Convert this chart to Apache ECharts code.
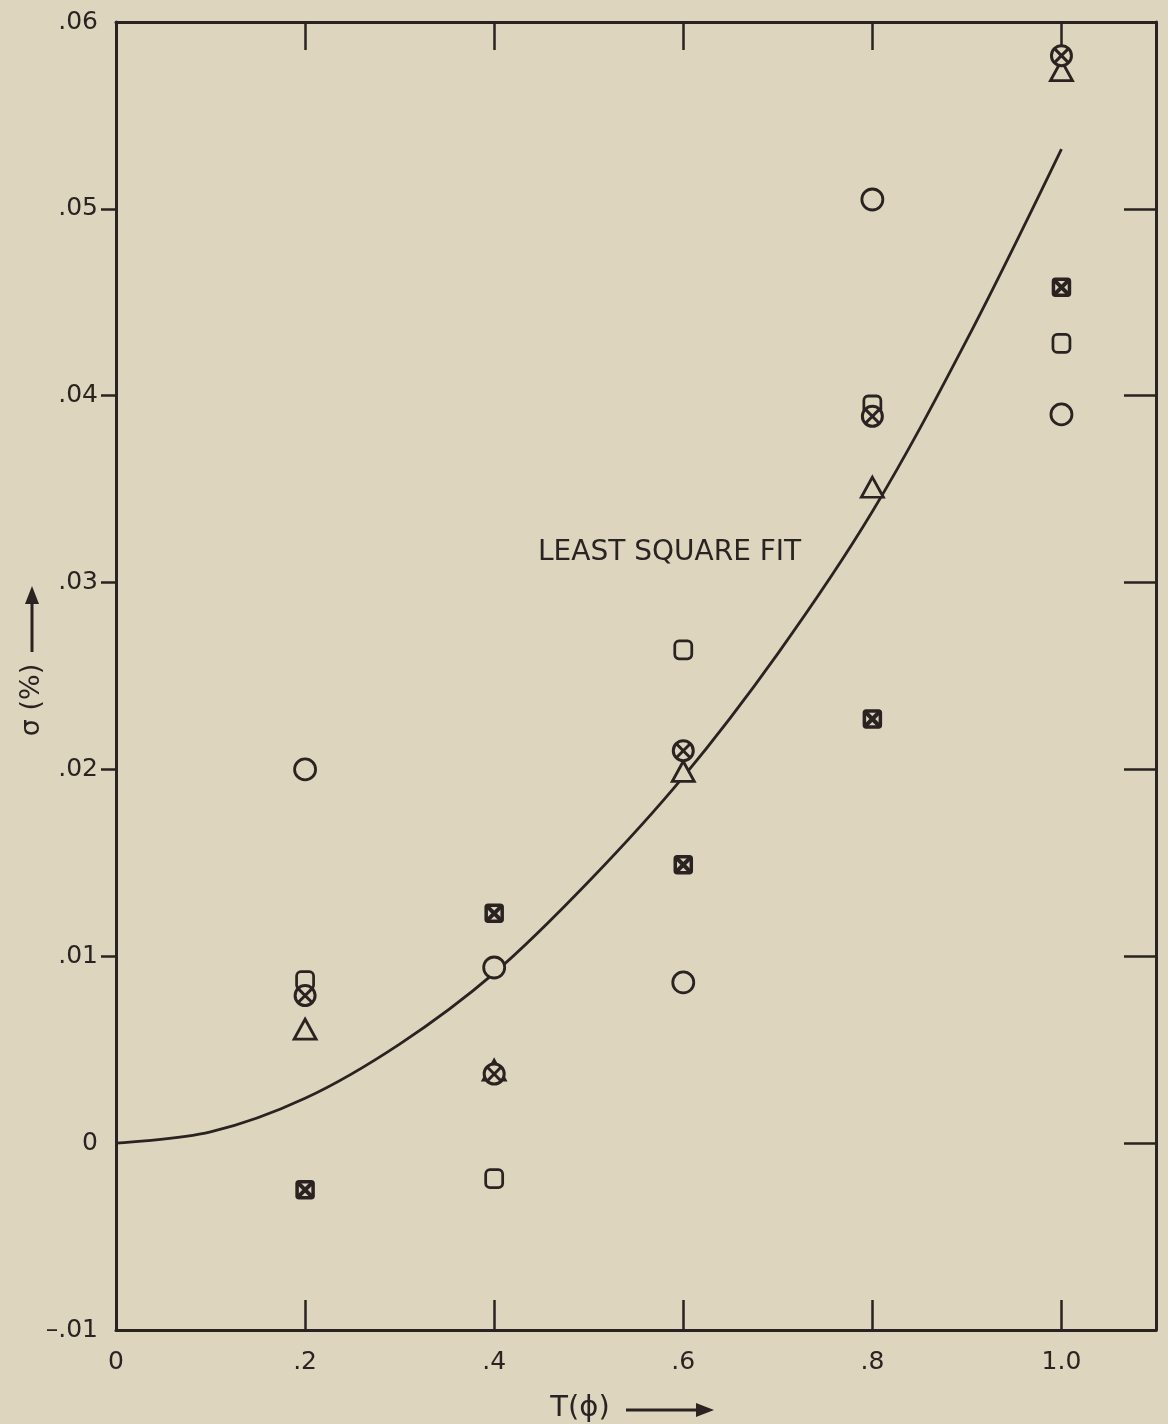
<!DOCTYPE html>
<html>
<head>
<meta charset="utf-8">
<script src="https://cdn.jsdelivr.net/npm/echarts@6/dist/echarts.min.js"></script>
<style>
  html, body { margin: 0; padding: 0; background: #ddd5be; }
  #chart { width: 1168px; height: 1424px; }
</style>
</head>
<body>
<div id="chart"></div>
<script>
// ---- data ----
const tValues   = [0.2, 0.4, 0.6, 0.8, 1.0];
const circleVals   = [0.0200, 0.0094, 0.0086, 0.0505, 0.0390];
const squareVals   = [0.0087, -0.0019, 0.0264, 0.0395, 0.0428];
const circleXVals  = [0.0079, 0.0037, 0.0210, 0.0389, 0.0582];
const triangleVals = [0.0061, 0.0039, 0.0199, 0.0351, 0.0574];
const boxedXVals   = [-0.0025, 0.0123, 0.0149, 0.0227, 0.0458];
const fitT     = [0, 0.1, 0.2, 0.3, 0.4, 0.5, 0.6, 0.7, 0.8, 0.9, 1.0];
const fitSigma = [0, 0.0006, 0.0024, 0.0053, 0.0091, 0.0140, 0.0196, 0.0262, 0.0338, 0.0430, 0.0532];
const xTickLabels = ['0', '.2', '.4', '.6', '.8', '1.0'];
const yTickLabels = ['\u2013.01', '0', '.01', '.02', '.03', '.04', '.05', '.06'];
const fitLabel = 'LEAST SQUARE FIT';
const xTitle = 'T(ϕ)';
const yTitle = 'σ (%)';

const INK = '#2a2321';
const BG = '#ddd5be';
const FONT = 'DejaVu Sans';

const pairs = vals => tValues.map((t, i) => [t, vals[i]]);

function xLabel(v) {
  const k = Math.round(v * 5);
  if (k < 0 || k >= xTickLabels.length || Math.abs(v * 5 - k) > 1e-6) return '';
  return xTickLabels[k];
}
function yLabel(v) {
  const k = Math.round(v * 100) + 1;
  if (k < 0 || k >= yTickLabels.length) return '';
  return yTickLabels[k];
}

function circleXItem(params, api) {
  const p = api.coord([api.value(0), api.value(1)]);
  const r = 10, d = r * 0.72;
  return { type: 'group', children: [
    { type: 'circle', shape: { cx: p[0], cy: p[1], r: r }, style: { fill: BG, stroke: INK, lineWidth: 3 } },
    { type: 'line', shape: { x1: p[0] - d, y1: p[1] - d, x2: p[0] + d, y2: p[1] + d }, style: { stroke: INK, lineWidth: 3 } },
    { type: 'line', shape: { x1: p[0] - d, y1: p[1] + d, x2: p[0] + d, y2: p[1] - d }, style: { stroke: INK, lineWidth: 3 } }
  ]};
}
function boxedXItem(params, api) {
  const p = api.coord([api.value(0), api.value(1)]);
  const h = 8;
  return { type: 'group', children: [
    { type: 'rect', shape: { x: p[0] - h, y: p[1] - h, width: 2 * h, height: 2 * h, r: 2 }, style: { fill: BG, stroke: INK, lineWidth: 3.5 } },
    { type: 'line', shape: { x1: p[0] - h, y1: p[1] - h, x2: p[0] + h, y2: p[1] + h }, style: { stroke: INK, lineWidth: 4 } },
    { type: 'line', shape: { x1: p[0] - h, y1: p[1] + h, x2: p[0] + h, y2: p[1] - h }, style: { stroke: INK, lineWidth: 4 } }
  ]};
}

const chart = echarts.init(document.getElementById('chart'), null, { renderer: 'canvas' });
const axisLineStyle = { color: INK, width: 3 };
const labelStyle = { color: INK, fontFamily: FONT, fontSize: 25 };

chart.setOption({
  backgroundColor: BG,
  animation: false,
  grid: { left: 116, top: 22, right: 12, bottom: 94, containLabel: false },
  xAxis: [
    { type: 'value', position: 'bottom', min: 0, max: 1.1, interval: 0.2,
      axisLine: { show: true, onZero: false, lineStyle: axisLineStyle },
      axisTick: { show: true, inside: true, length: 30, lineStyle: { color: INK, width: 2.5 } },
      axisLabel: Object.assign({ margin: 20, formatter: xLabel, showMaxLabel: false }, labelStyle),
      splitLine: { show: false } },
    { type: 'value', position: 'top', min: 0, max: 1.1, interval: 0.2,
      axisLine: { show: true, onZero: false, lineStyle: axisLineStyle },
      axisTick: { show: true, inside: true, length: 28, lineStyle: { color: INK, width: 2.5 } },
      axisLabel: { show: false }, splitLine: { show: false } }
  ],
  yAxis: [
    { type: 'value', position: 'left', min: -0.01, max: 0.06, interval: 0.01,
      axisLine: { show: true, onZero: false, lineStyle: axisLineStyle },
      axisTick: { show: true, inside: false, length: 15, customValues: [0.01, 0.02, 0.03, 0.04, 0.05], lineStyle: { color: INK, width: 2.5 } },
      axisLabel: Object.assign({ margin: 18, formatter: yLabel }, labelStyle),
      splitLine: { show: false } },
    { type: 'value', position: 'right', min: -0.01, max: 0.06, interval: 0.01,
      axisLine: { show: true, onZero: false, lineStyle: axisLineStyle },
      axisTick: { show: true, inside: true, length: 32, customValues: [0, 0.01, 0.02, 0.03, 0.04, 0.05], lineStyle: { color: INK, width: 2.5 } },
      axisLabel: { show: false }, splitLine: { show: false } }
  ],
  graphic: [
    { type: 'text', left: 538, top: 539, style: { text: fitLabel, fill: INK, font: '28px "DejaVu Sans"' } },
    // y-axis title (reads upward) with arrow
    { type: 'text', x: 32, y: 700, rotation: Math.PI / 2, style: { text: yTitle, fill: INK, font: '27px "DejaVu Sans"', align: 'center', verticalAlign: 'middle' } },
    { type: 'line', shape: { x1: 32, y1: 652, x2: 32, y2: 600 }, style: { stroke: INK, lineWidth: 3 } },
    { type: 'polygon', shape: { points: [[32, 586], [25, 604], [39, 604]] }, style: { fill: INK } },
    // x-axis title with arrow
    { type: 'text', x: 580, y: 1408, style: { text: xTitle, fill: INK, font: '29px "DejaVu Sans"', align: 'center', verticalAlign: 'middle' } },
    { type: 'line', shape: { x1: 626, y1: 1410, x2: 700, y2: 1410 }, style: { stroke: INK, lineWidth: 3 } },
    { type: 'polygon', shape: { points: [[714, 1410], [696, 1403], [696, 1417]] }, style: { fill: INK } }
  ],
  series: [
    { type: 'line', name: 'fit', data: fitT.map((t, i) => [t, fitSigma[i]]), smooth: 0.35, showSymbol: false,
      lineStyle: { color: INK, width: 2.8 }, z: 1 },
    { type: 'scatter', name: 'circle', data: pairs(circleVals), symbol: 'circle', symbolSize: 21,
      itemStyle: { color: BG, borderColor: INK, borderWidth: 2.8, opacity: 1 }, z: 3 },
    { type: 'scatter', name: 'square', data: pairs(squareVals), symbol: 'roundRect', symbolSize: [17, 18],
      itemStyle: { color: BG, borderColor: INK, borderWidth: 2.8, opacity: 1 }, z: 3 },
    { type: 'scatter', name: 'triangle', data: pairs(triangleVals), symbol: 'triangle', symbolSize: [22, 20],
      itemStyle: { color: BG, borderColor: INK, borderWidth: 2.8, opacity: 1 }, z: 3 },
    { type: 'custom', name: 'circleX', data: pairs(circleXVals), renderItem: circleXItem, z: 4 },
    { type: 'custom', name: 'boxedX', data: pairs(boxedXVals), renderItem: boxedXItem, z: 4 }
  ]
});
</script>
</body>
</html>
